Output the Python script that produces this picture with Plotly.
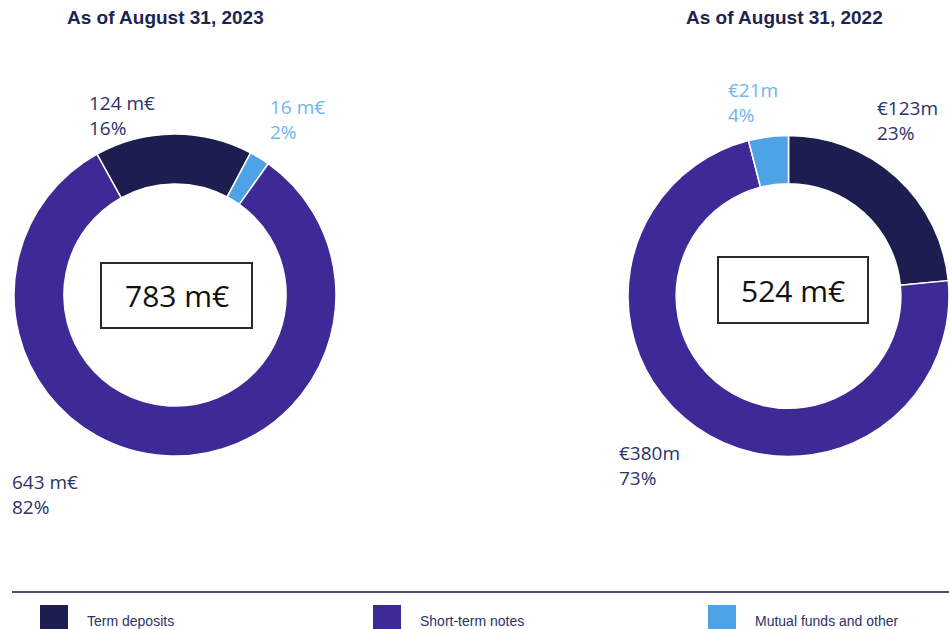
import plotly.graph_objects as go

W, H = 949, 629

# data
categories = ["Term deposits", "Short-term notes", "Mutual funds and other"]
values_2023 = [124, 643, 16]
pct_2023 = [16, 82, 2]
values_2022 = [123, 380, 21]
pct_2022 = [23, 73, 4]
total_2023 = 783
total_2022 = 524

NAVY = "#1c1e50"
PURPLE = "#3e2a96"
LIGHT = "#4ea3e6"
colors = [NAVY, PURPLE, LIGHT]
label_colors = ["#2b3367", "#2b3367", "#6fb6ee"]
FONT = "Open Sans, Noto Sans, sans-serif"


def px(x, y):
    # pixel -> paper coords (margins are zero)
    return x / W, 1 - y / H


def dom(cx, cy, r):
    x0, x1 = max(cx - r, 0) / W, min(cx + r, W) / W
    return dict(x=[x0, x1], y=[1 - (cy + r) / H, 1 - (cy - r) / H])


fig = go.Figure()

# 2023: term deposits, then mutual funds, then notes (clockwise)
order_23 = [0, 2, 1]
fig.add_trace(go.Pie(
    labels=[categories[i] for i in order_23],
    values=[values_2023[i] for i in order_23],
    marker=dict(colors=[colors[i] for i in order_23], line=dict(color="white", width=1.5)),
    hole=0.69, sort=False, direction="clockwise", rotation=-29,
    textinfo="none", hoverinfo="label+value+percent", showlegend=False,
    domain=dom(175, 295, 161),
))

# 2022: term deposits, notes, mutual funds (clockwise from 12 o'clock)
fig.add_trace(go.Pie(
    labels=categories,
    values=values_2022,
    marker=dict(colors=colors, line=dict(color="white", width=1.5)),
    hole=0.70, sort=False, direction="clockwise", rotation=0,
    textinfo="none", hoverinfo="label+value+percent", showlegend=False,
    domain=dom(790, 296, 162),
))

annotations = []

# titles
for txt, cx in [("As of August 31, 2023", 165), ("As of August 31, 2022", 784)]:
    x, y = px(cx, 18)
    annotations.append(dict(x=x, y=y, xref="paper", yref="paper", text="<b>%s</b>" % txt,
                            showarrow=False, xanchor="center", yanchor="middle",
                            font=dict(family="Liberation Sans, Arial", size=19, color="#1d2452")))

# slice labels: (pixel x, pixel top y)
pos_23 = [(87, 88), (10, 467), (268, 92)]
pos_22 = [(875, 93), (617, 438), (726, 75)]
for i in range(3):
    x, y = px(*pos_23[i])
    annotations.append(dict(x=x, y=y, xref="paper", yref="paper",
                            text="%d m€<br>%d%%" % (values_2023[i], pct_2023[i]),
                            showarrow=False, xanchor="left", yanchor="top", align="left",
                            font=dict(family=FONT, size=19, color=label_colors[i])))
    x, y = px(*pos_22[i])
    annotations.append(dict(x=x, y=y, xref="paper", yref="paper",
                            text="€%dm<br>%d%%" % (values_2022[i], pct_2022[i]),
                            showarrow=False, xanchor="left", yanchor="top", align="left",
                            font=dict(family=FONT, size=19, color=label_colors[i])))

# totals in boxes
shapes = []
for total, (x0, y0, x1, y1) in [(total_2023, (101, 263, 252, 328)), (total_2022, (718, 257, 868, 323))]:
    a0, b0 = px(x0, y0)
    a1, b1 = px(x1, y1)
    shapes.append(dict(type="rect", xref="paper", yref="paper", x0=a0, y0=b1, x1=a1, y1=b0,
                       line=dict(color="#2a2a2a", width=2), fillcolor="white"))
    cx, cy = px((x0 + x1) / 2, (y0 + y1) / 2)
    annotations.append(dict(x=cx, y=cy, xref="paper", yref="paper", text="%d m€" % total,
                            showarrow=False, xanchor="center", yanchor="middle",
                            font=dict(family=FONT, size=30, color="#111111")))

# separator line
a0, b0 = px(12, 592)
shapes.append(dict(type="line", xref="paper", yref="paper", x0=a0, x1=1, y0=b0, y1=b0,
                   line=dict(color="#4a4f6c", width=2)))

# legend
leg_x = [40, 373, 708]
for i, name in enumerate(categories):
    sx = leg_x[i]
    a0, b0 = px(sx, 605)
    a1, b1 = px(sx + 28, 640)
    shapes.append(dict(type="rect", xref="paper", yref="paper", x0=a0, x1=a1, y0=b1, y1=b0,
                       line=dict(width=0), fillcolor=colors[i]))
    tx, ty = px(sx + 45, 621)
    annotations.append(dict(x=tx, y=ty, xref="paper", yref="paper", text=name,
                            showarrow=False, xanchor="left", yanchor="middle",
                            font=dict(family="Liberation Sans Narrow, Arial Narrow, sans-serif",
                                      size=14, color="#2b3367")))

fig.update_layout(
    width=W, height=H,
    margin=dict(l=0, r=0, t=0, b=0),
    paper_bgcolor="white", plot_bgcolor="white",
    shapes=shapes, annotations=annotations,
    showlegend=False,
)

fig.write_html("out.html", config={"displayModeBar": False},
               post_script="document.body.style.margin='0';document.body.style.overflow='hidden';")
